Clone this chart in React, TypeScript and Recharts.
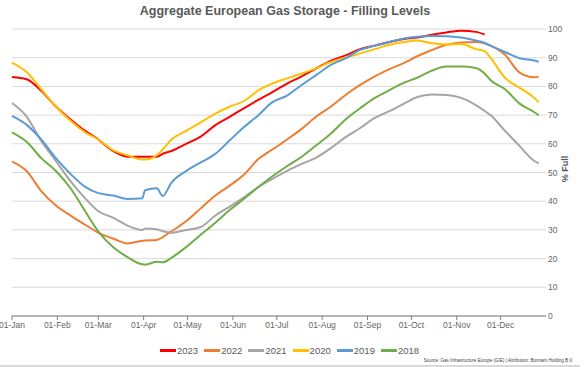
import { LineChart, Line, XAxis, YAxis, CartesianGrid } from "recharts";

document.body.style.margin = "0";

// day of year for each sample
const days = [
  0, 10, 20, 30, 40, 50, 59, 69, 79, 89, 91, 99, 103, 109, 119, 129, 139, 149, 159, 168,
  178, 188, 198, 208, 218, 228, 238, 248, 258, 268, 277, 287, 297, 307, 317, 323, 327, 337, 347, 357, 360,
];

const monthTicks = [0, 31, 59, 90, 120, 151, 181, 212, 243, 273, 304, 334];
const monthLabels = ["01-Jan", "01-Feb", "01-Mar", "01-Apr", "01-May", "01-Jun", "01-Jul", "01-Aug", "01-Sep", "01-Oct", "01-Nov", "01-Dec"];
const pctTicks = [0, 10, 20, 30, 40, 50, 60, 70, 80, 90, 100];

const fill2023 = [
  83.3, 82.5, 78.5, 73, 68.5, 64.5, 61.5, 57.5, 55.5, 55.5, 55.5, 55.5, 56.5, 57.5, 60, 62.5, 66.5, 69.5, 72.5, 75.2,
  78, 81, 83.5, 86.3, 89, 90.8, 93, 94.2, 95.5, 96.5, 97, 98, 98.8, 99.4, 99, 98.1, null, null, null, null, null,
];
const fill2022 = [
  53.8, 50.5, 43.5, 38.5, 35, 31.8, 29, 27, 25.3, 26.2, 26.3, 26.5, 27.5, 29.5, 33, 37.5, 42, 45.5, 49.5, 54.5,
  58, 61.5, 65.2, 69.5, 73, 77, 80.5, 83.5, 86, 88.2, 90.5, 92.7, 94.5, 95.3, 95.5, 95, 94.2, 91, 84.8, 83.2, 83.4,
];
const fill2021 = [
  74.2, 69.5, 61, 54, 47, 41, 36.5, 34.3, 31.5, 30, 30.5, 30.2, 29.5, 29, 30, 31, 35, 38.2, 41.5, 44.8,
  47.8, 50.6, 53, 55.2, 58.5, 62.3, 65.5, 69, 71.4, 74, 76.3, 77.2, 77, 76, 73.5, 71.5, 70, 64.5, 59.2, 54, 53.2,
];
const fill2020 = [
  88.3, 85, 79, 73, 68, 64, 61.5, 57.8, 56, 54.5, 54.5, 56, 58, 61.5, 64.5, 67.5, 70.5, 73, 75, 78.5,
  81, 82.8, 84.5, 86.3, 88.5, 90, 91.5, 93, 94.5, 95.5, 96, 95, 94.6, 94.8, 93, 92.3, 90, 83, 79.5, 76, 74.5,
];
const fill2019 = [
  69.7, 66.6, 61.5, 55, 49.5, 45, 42.8, 42, 40.8, 41, 43.8, 44.5, 41.8, 46.5, 50.5, 53.5, 56.5, 61.3, 66, 69.8,
  74.5, 76.8, 80.5, 84, 87.5, 89.8, 92.7, 94.2, 95.5, 96.7, 97.3, 97.6, 97.5, 97, 96, 95.2, 94.2, 92, 89.8, 89, 88.6,
];
const fill2018 = [
  64, 60.7, 55, 50.5, 44.5, 36.5, 29.5, 24, 20.5, 18, 17.9, 18.9, 18.7, 20.3, 24, 28.3, 32.5, 37, 41, 44.8,
  48.7, 52.2, 55.5, 59.5, 63.6, 68.5, 72.4, 76, 78.7, 81.3, 83, 85.5, 86.9, 86.9, 86.4, 84.5, 82.2, 79, 74, 71, 70,
];

const years = ["2023", "2022", "2021", "2020", "2019", "2018"];
const yearValues = [fill2023, fill2022, fill2021, fill2020, fill2019, fill2018];
const colors = ["#ff0000", "#ed7d31", "#a5a5a5", "#ffc000", "#5b9bd5", "#70ad47"];

const data = days.map((day, i) => {
  const row: Record<string, number | null> = { day };
  years.forEach((y, k) => {
    row["y" + y] = yearValues[k][i];
  });
  return row;
});

const FONT = "'Liberation Sans', Arial, sans-serif";

export default function App() {
  return (
    <div style={{ position: "relative", width: 586, height: 367, fontFamily: FONT, background: "#fff", overflow: "hidden" }}>
      <div
        style={{
          position: "absolute",
          left: 0,
          top: 4,
          width: 570,
          textAlign: "center",
          fontSize: 12.5,
          fontWeight: "bold",
          color: "#595959",
        }}
      >
        Aggregate European Gas Storage - Filling Levels
      </div>
      <LineChart width={586} height={367} data={data} margin={{ top: 29, right: 6, left: 12, bottom: 31 }}>
        <CartesianGrid vertical={false} stroke="#d9d9d9" />
        <XAxis
          dataKey="day"
          type="number"
          domain={[0, 365]}
          ticks={monthTicks}
          tickFormatter={(v: number) => monthLabels[monthTicks.indexOf(v)]}
          height={20}
          stroke="#808080"
          tickSize={4}
          tick={{ fontSize: 8.5, fill: "#666" }}
          interval={0}
        />
        <YAxis
          orientation="right"
          domain={[0, 100]}
          ticks={pctTicks}
          width={34}
          axisLine={false}
          tickLine={false}
          tickSize={0}
          tickMargin={2}
          tick={{ fontSize: 8.5, fill: "#666", textAnchor: "start" }}
        />
        {years.map((y, k) => (
          <Line
            key={y}
            type="monotone"
            dataKey={"y" + y}
            stroke={colors[k]}
            strokeWidth={2}
            dot={false}
            isAnimationActive={false}
          />
        ))}
      </LineChart>
      <div
        style={{
          position: "absolute",
          left: 565,
          top: 169,
          transform: "translate(-50%, -50%) rotate(-90deg)",
          fontSize: 9,
          fontWeight: "bold",
          color: "#595959",
          whiteSpace: "nowrap",
        }}
      >
        % Full
      </div>
      {years.map((y, k) => (
        <div
          key={y}
          style={{ position: "absolute", left: 160 + k * 44.2, top: 344, display: "flex", alignItems: "center", height: 12 }}
        >
          <span style={{ display: "inline-block", width: 16, height: 3, background: colors[k] }} />
          <span style={{ fontSize: 9.5, color: "#595959", marginLeft: 1 }}>{y}</span>
        </div>
      ))}
      <div
        style={{
          position: "absolute",
          right: 13,
          top: 358,
          fontSize: 4.5,
          color: "#404040",
          whiteSpace: "nowrap",
        }}
      >
        Source: Gas Infrastructure Europe (GIE) | Attribution: Bonnam Holding B.V.
      </div>
      <div style={{ position: "absolute", left: 0, top: 365, width: 580, height: 2, background: "#d9d9d9" }} />
    </div>
  );
}
